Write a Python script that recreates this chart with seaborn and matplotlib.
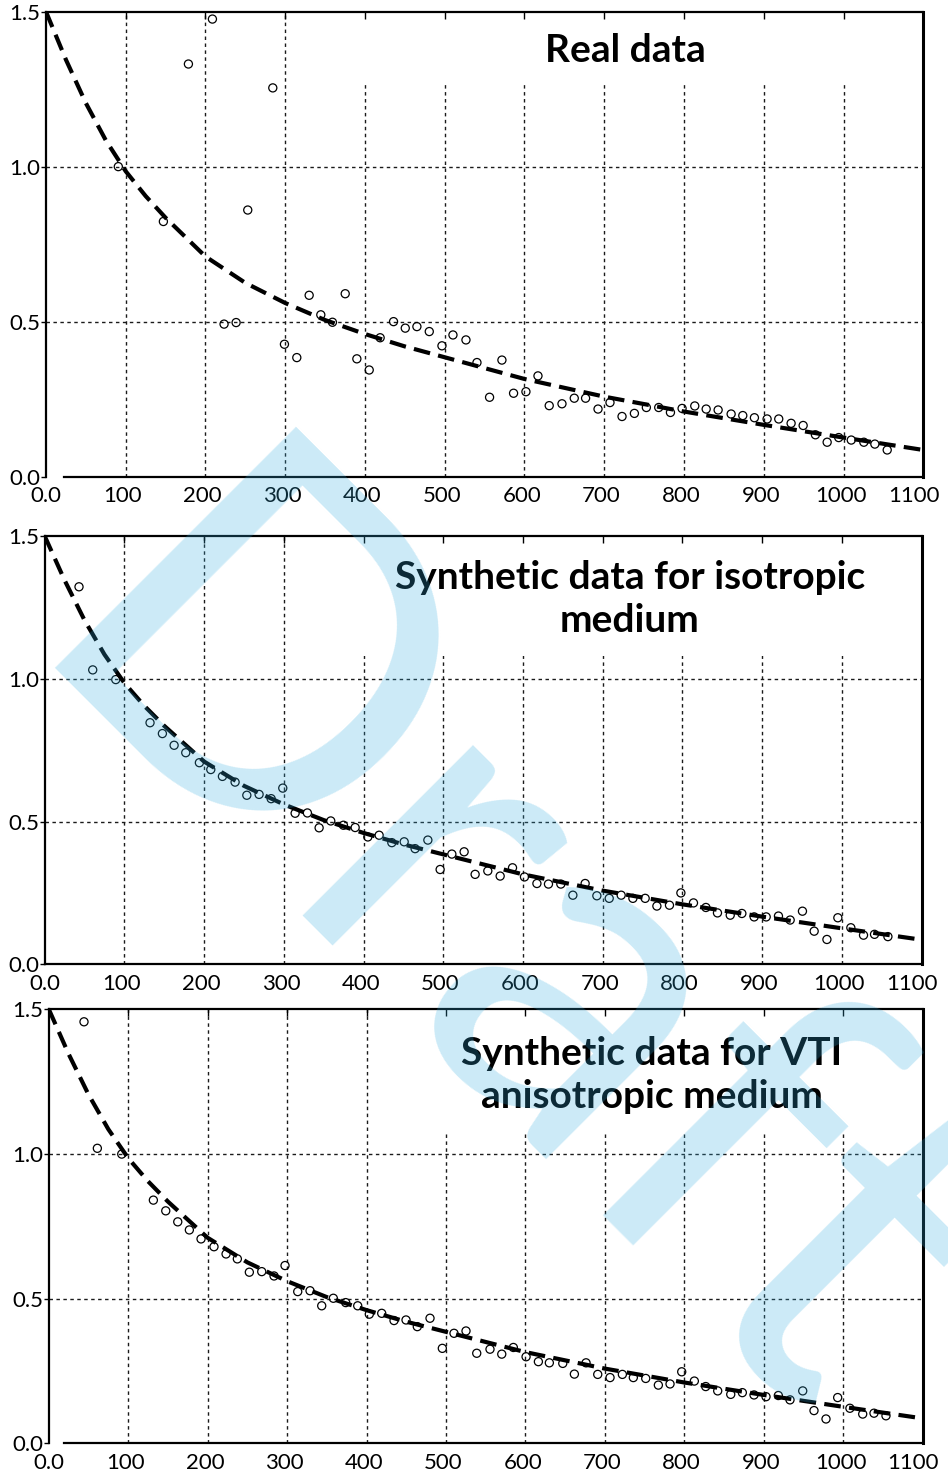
import matplotlib
matplotlib.use("Agg")
import matplotlib.pyplot as plt
from matplotlib.patches import Rectangle
from matplotlib.transforms import ScaledTranslation
import seaborn as sns

# ---- data -----------------------------------------------------------------
x_ticks = [0, 100, 200, 300, 400, 500, 600, 700, 800, 900, 1000, 1100]
x_tick_labels = ["0.0", "100", "200", "300", "400", "500", "600", "700",
                 "800", "900", "1000", "1100"]
y_ticks = [0.0, 0.5, 1.0, 1.5]
y_tick_labels = ["0.0", "0.5", "1.0", "1.5"]

# fitted model curve (shared by the three panels)
model_x = [0, 25, 50, 75, 100, 125, 150, 200, 250, 300, 350, 400, 450, 500,
           600, 700, 800, 900, 1000, 1100]
model_y = [1.5, 1.345, 1.205, 1.085, 0.985, 0.905, 0.835, 0.71, 0.625, 0.56,
           0.505, 0.46, 0.42, 0.385, 0.315, 0.258, 0.21, 0.167, 0.126, 0.086]

real_x = [90.7, 147.2, 178.6, 208.7, 223.3, 238.4, 253.0, 284.4, 299.0, 314.5,
          330.0, 344.6, 359.2, 375.2, 389.8, 405.3, 419.0, 435.8, 450.5, 465.1,
          480.6, 496.5, 510.3, 526.6, 540.4, 556.2, 571.7, 586.3, 601.8, 616.9,
          631.0, 647.0, 662.4, 676.6, 692.2, 707.2, 722.3, 737.8, 752.8, 768.3,
          783.0, 797.6, 813.5, 827.8, 842.8, 859.1, 873.7, 888.3, 904.2, 918.8,
          934.3, 949.4, 964.8, 979.5, 994.0, 1009.7, 1025.5, 1039.3, 1054.8]
real_y = [1.000, 0.823, 1.331, 1.476, 0.492, 0.497, 0.860, 1.254, 0.427, 0.384,
          0.585, 0.522, 0.498, 0.590, 0.380, 0.344, 0.448, 0.500, 0.479, 0.484,
          0.468, 0.422, 0.457, 0.441, 0.368, 0.256, 0.376, 0.269, 0.274, 0.325,
          0.229, 0.235, 0.253, 0.253, 0.218, 0.239, 0.194, 0.204, 0.223, 0.223,
          0.207, 0.220, 0.228, 0.218, 0.215, 0.202, 0.197, 0.190, 0.186, 0.186,
          0.172, 0.165, 0.135, 0.111, 0.126, 0.118, 0.111, 0.105, 0.086]

iso_x = [43.1, 60.3, 89.2, 132.2, 147.7, 162.4, 177.0, 194.1, 208.4, 223.0,
         238.9, 253.6, 269.0, 284.1, 298.7, 314.2, 329.6, 344.3, 358.9, 374.8,
         389.5, 405.4, 419.6, 435.5, 451.0, 464.7, 480.7, 496.1, 510.8, 526.2,
         540.0, 555.9, 571.4, 586.9, 601.9, 617.5, 632.0, 647.5, 662.6, 678.0,
         692.7, 708.2, 723.2, 737.9, 753.3, 768.0, 783.8, 798.1, 813.9, 829.5,
         844.0, 860.0, 874.6, 890.0, 905.1, 920.5, 935.2, 950.6, 965.3, 981.3,
         995.0, 1011.3, 1027.2, 1041.0, 1057.8]
iso_y = [1.322, 1.031, 0.997, 0.846, 0.808, 0.767, 0.741, 0.706, 0.682, 0.658,
         0.638, 0.592, 0.595, 0.580, 0.617, 0.529, 0.530, 0.478, 0.502, 0.487,
         0.479, 0.446, 0.452, 0.426, 0.429, 0.405, 0.435, 0.332, 0.386, 0.394,
         0.315, 0.327, 0.309, 0.338, 0.306, 0.283, 0.281, 0.281, 0.242, 0.283,
         0.240, 0.231, 0.242, 0.231, 0.231, 0.204, 0.207, 0.250, 0.215, 0.199,
         0.180, 0.172, 0.178, 0.166, 0.166, 0.169, 0.155, 0.186, 0.116, 0.087,
         0.163, 0.128, 0.102, 0.105, 0.097]

vti_x = [44.4, 61.2, 91.9, 131.7, 147.3, 162.4, 177.0, 191.7, 208.0, 223.2,
         237.4, 252.5, 268.1, 283.6, 297.4, 313.4, 328.9, 343.6, 358.2, 373.8,
         388.9, 403.5, 419.1, 434.6, 449.7, 463.9, 479.9, 495.4, 510.1, 525.2,
         538.7, 555.4, 570.2, 584.8, 600.8, 616.3, 630.1, 647.0, 661.6, 676.3,
         691.0, 706.5, 722.0, 735.8, 751.4, 767.3, 782.0, 796.7, 812.6, 826.9,
         842.0, 858.4, 873.0, 887.7, 902.8, 918.3, 933.0, 949.0, 963.2, 978.3,
         993.0, 1008.4, 1024.5, 1038.7, 1053.8]
vti_y = [1.456, 1.019, 0.999, 0.840, 0.803, 0.765, 0.737, 0.706, 0.679, 0.654,
         0.637, 0.591, 0.593, 0.578, 0.614, 0.524, 0.527, 0.475, 0.501, 0.486,
         0.475, 0.446, 0.449, 0.424, 0.426, 0.403, 0.432, 0.328, 0.380, 0.388,
         0.311, 0.325, 0.308, 0.331, 0.299, 0.282, 0.278, 0.276, 0.239, 0.278,
         0.238, 0.227, 0.238, 0.227, 0.224, 0.201, 0.205, 0.247, 0.215, 0.196,
         0.181, 0.169, 0.175, 0.167, 0.161, 0.165, 0.150, 0.181, 0.113, 0.084,
         0.158, 0.121, 0.101, 0.104, 0.095]

titles = ["Real data",
          "Synthetic data for isotropic\nmedium",
          "Synthetic data for VTI\nanisotropic medium"]

# ---- style ----------------------------------------------------------------
sns.set_style("white")
plt.rcParams["font.family"] = ["Lato", "DejaVu Sans"]
plt.rcParams["text.color"] = "black"
plt.rcParams["xtick.color"] = "black"
plt.rcParams["ytick.color"] = "black"
plt.rcParams["xtick.labelcolor"] = "black"
plt.rcParams["ytick.labelcolor"] = "black"

fig = plt.figure(figsize=(9.48, 14.72), dpi=100)

# panel layout: axes rect, title anchor (data), white title box (x0, y0), bottom-spine start
panels = [
    dict(rect=[0.0485, 0.6762, 0.9254, 0.3159], xs=real_x, ys=real_y,
         title_xy=(726, 1.376), box=(340, 1.273), xstart=23),
    dict(rect=[0.0471, 0.3449, 0.9250, 0.2910], xs=iso_x, ys=iso_y,
         title_xy=(734, 1.279), box=(350, 1.078), xstart=0),
    dict(rect=[0.0514, 0.0195, 0.9219, 0.2950], xs=vti_x, ys=vti_y,
         title_xy=(759, 1.272), box=(460, 1.072), xstart=19),
]

# small leftward shift of the x labels; the last one needs more room
label_shift = ScaledTranslation(-2 / 72, 0, fig.dpi_scale_trans)
last_shift = ScaledTranslation(-7 / 72, 0, fig.dpi_scale_trans)

for p, title in zip(panels, titles):
    ax = fig.add_axes(p["rect"])
    ax.set_xlim(0, 1100)
    ax.set_ylim(0, 1.5)
    ax.set_axisbelow(False)

    # dotted grid
    for xv in x_ticks[1:-1]:
        ax.axvline(xv, color="#1a1a1a", lw=1.0, ls=(0, (2.5, 2.5)), zorder=1)
    for yv in y_ticks[1:-1]:
        ax.axhline(yv, color="#1a1a1a", lw=1.0, ls=(0, (2.5, 2.5)), zorder=1)

    # white title box covering the grid
    bx, by = p["box"]
    ax.add_patch(Rectangle((bx, by), 1100 - bx, 1.5 - by, facecolor="white",
                           edgecolor="none", zorder=1.6))

    sns.lineplot(x=model_x, y=model_y, ax=ax, color="black", lw=3.0,
                 sort=True, errorbar=None, zorder=2.8)
    ax.lines[-1].set_dashes([4, 2])

    sns.scatterplot(x=p["xs"], y=p["ys"], ax=ax, marker="o", s=34,
                    zorder=3, legend=False)
    pts = ax.collections[-1]
    pts.set_facecolor("none")
    pts.set_edgecolor("black")
    pts.set_linewidth(0.9)

    ax.text(p["title_xy"][0], p["title_xy"][1], title, ha="center",
            va="center", multialignment="center", fontsize=28,
            fontweight="bold", linespacing=1.3, color="black", zorder=4)

    ax.set_xticks(x_ticks)
    ax.set_xticklabels(x_tick_labels)
    ax.set_yticks(y_ticks)
    ax.set_yticklabels(y_tick_labels)
    ax.tick_params(axis="x", top=True, bottom=False, direction="in",
                   length=5, width=1, labelsize=16, pad=7, color="black",
                   labelcolor="black")
    ax.tick_params(axis="y", left=True, direction="out", length=3.5,
                   width=1, labelsize=16, pad=0.5, color="black",
                   labelcolor="black")
    xlabels = ax.get_xticklabels()
    for lab in xlabels[1:-1]:
        lab.set_transform(lab.get_transform() + label_shift)
    xlabels[-1].set_transform(xlabels[-1].get_transform() + last_shift)

    for side in ["top", "left", "bottom"]:
        ax.spines[side].set_color("black")
        ax.spines[side].set_linewidth(1.6)
    ax.spines["right"].set_color("black")
    ax.spines["right"].set_linewidth(2.2)
    ax.spines["bottom"].set_bounds(p["xstart"], 1100)

    ax.set_xlabel("")
    ax.set_ylabel("")

# watermark
fig.text(10 / 948, 1 - 667 / 1472, "Draft", rotation=-45,
         rotation_mode="anchor", ha="left", va="baseline", fontsize=342,
         color=(0.2, 0.68, 0.88), alpha=0.25, zorder=10)

fig.savefig("out.png", dpi=100)
